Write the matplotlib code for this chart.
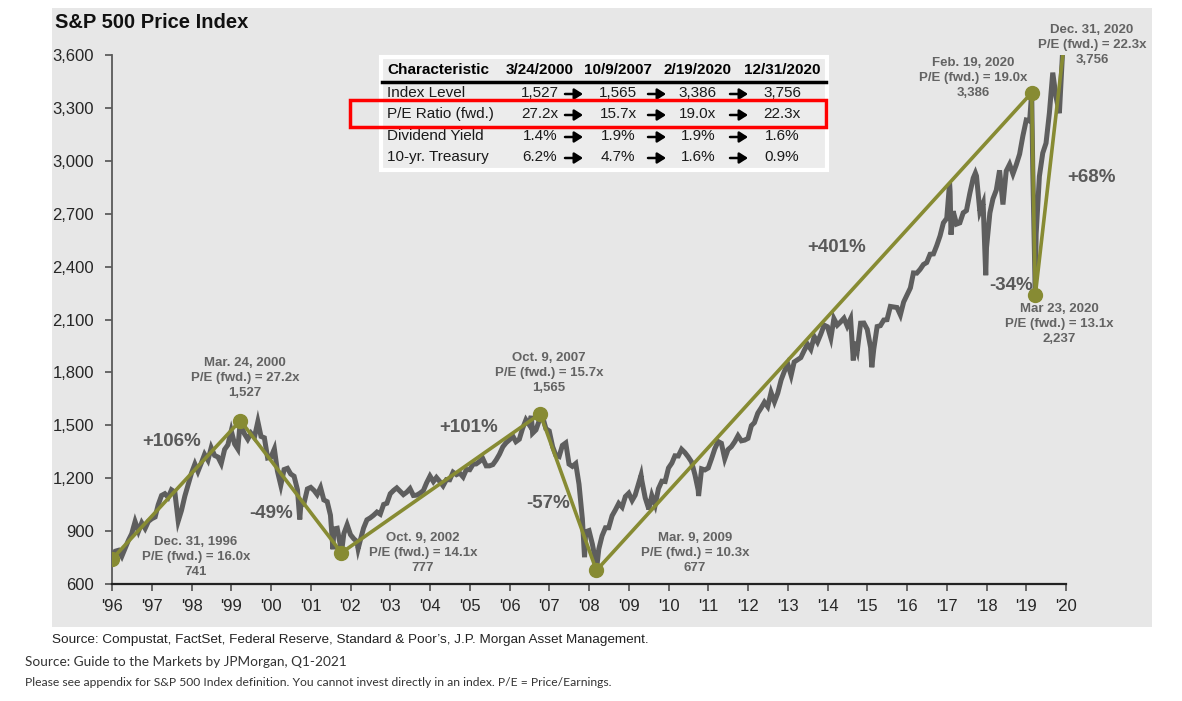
import numpy as np
import pandas as pd
import matplotlib
matplotlib.use("Agg")
import matplotlib.pyplot as plt
from matplotlib.patches import Rectangle, FancyArrowPatch

# S&P 500 month-end closes, Dec 1996 .. Dec 2020
sp500_close = [
    741,
    786, 791, 757, 801, 848, 885, 954, 899, 947, 915, 955, 970,          # 1997
    980, 1049, 1102, 1112, 1091, 1134, 1121, 957, 1017, 1099, 1164, 1229,  # 1998
    1280, 1238, 1286, 1335, 1302, 1373, 1329, 1320, 1283, 1363, 1389, 1469,  # 1999
    1394, 1366, 1499, 1452, 1421, 1455, 1431, 1518, 1437, 1429, 1315, 1320,  # 2000
    1366, 1240, 1160, 1249, 1256, 1224, 1211, 1134, 1041, 1060, 1139, 1148,  # 2001
    1130, 1107, 1147, 1077, 1067, 990, 912, 916, 815, 886, 936, 880,       # 2002
    856, 841, 848, 917, 964, 975, 990, 1008, 996, 1051, 1058, 1112,        # 2003
    1131, 1145, 1126, 1107, 1121, 1141, 1102, 1104, 1115, 1130, 1174, 1212,  # 2004
    1181, 1204, 1181, 1157, 1192, 1191, 1234, 1220, 1229, 1207, 1249, 1248,  # 2005
    1280, 1281, 1295, 1311, 1270, 1270, 1277, 1304, 1336, 1378, 1401, 1418,  # 2006
    1438, 1407, 1421, 1482, 1531, 1503, 1455, 1474, 1527, 1549, 1481, 1468,  # 2007
    1379, 1331, 1323, 1386, 1400, 1280, 1267, 1283, 1166, 969, 896, 903,   # 2008
    826, 735, 798, 873, 919, 919, 987, 1021, 1057, 1036, 1096, 1115,       # 2009
    1074, 1104, 1169, 1187, 1089, 1031, 1102, 1049, 1141, 1183, 1181, 1258,  # 2010
    1286, 1327, 1326, 1364, 1345, 1321, 1292, 1219, 1131, 1253, 1247, 1258,  # 2011
    1312, 1366, 1408, 1398, 1310, 1362, 1379, 1407, 1441, 1412, 1416, 1426,  # 2012
    1498, 1515, 1569, 1598, 1631, 1606, 1686, 1633, 1682, 1757, 1806, 1848,  # 2013
    1783, 1859, 1872, 1884, 1924, 1960, 1931, 2003, 1972, 2018, 2068, 2059,  # 2014
    1995, 2105, 2068, 2086, 2107, 2063, 2104, 1972, 1920, 2079, 2080, 2044,  # 2015
    1940, 1932, 2060, 2065, 2097, 2099, 2174, 2171, 2168, 2126, 2199, 2239,  # 2016
    2279, 2364, 2363, 2384, 2412, 2423, 2470, 2472, 2519, 2575, 2648, 2674,  # 2017
    2824, 2714, 2641, 2648, 2705, 2718, 2816, 2902, 2914, 2712, 2760, 2507,  # 2018
    2704, 2784, 2834, 2946, 2752, 2942, 2980, 2926, 2977, 3038, 3141, 3231,  # 2019
    3226, 2954, 2585, 2912, 3044, 3100, 3271, 3500, 3363, 3270, 3622, 3756,  # 2020
]

# intra-month highs / lows seen in the daily line
extra_dates = ['2000-03-24', '2000-09-01', '2001-09-21', '2002-07-23', '2002-10-09',
               '2003-03-11', '2007-07-19', '2007-10-09', '2008-11-20', '2009-03-09',
               '2010-04-23', '2010-07-02', '2011-10-03', '2015-08-25', '2016-02-11',
               '2018-01-26', '2018-02-08', '2018-09-20', '2018-12-24', '2020-02-19',
               '2020-03-23']
extra_values = [1527, 1521, 966, 797, 777,
                800, 1553, 1565, 752, 677,
                1217, 1022, 1099, 1868, 1829,
                2873, 2581, 2931, 2351, 3386,
                2237]

# peaks and troughs joined by the olive line
key_dates = ['1996-12-31', '2000-03-24', '2002-10-09', '2007-10-09',
             '2009-03-09', '2020-02-19', '2020-03-23', '2020-12-31']
key_values = [741, 1527, 777, 1565, 677, 3386, 2237, 3756]

key_labels = ['Dec. 31, 1996', 'Mar. 24, 2000', 'Oct. 9, 2002', 'Oct. 9, 2007',
              'Mar. 9, 2009', 'Feb. 19, 2020', 'Mar 23, 2020', 'Dec. 31, 2020']
key_pe = ['16.0x', '27.2x', '14.1x', '15.7x', '10.3x', '19.0x', '13.1x', '22.3x']
key_level = ['741', '1,527', '777', '1,565', '677', '3,386', '2,237', '3,756']

moves = ['+106%', '-49%', '+101%', '-57%', '+401%', '-34%', '+68%']

table_cols = ['3/24/2000', '10/9/2007', '2/19/2020', '12/31/2020']
table_rows = ['Index Level', 'P/E Ratio (fwd.)', 'Dividend Yield', '10-yr. Treasury']
index_level = ['1,527', '1,565', '3,386', '3,756']
pe_ratio = ['27.2x', '15.7x', '19.0x', '22.3x']
div_yield = ['1.4%', '1.9%', '1.9%', '1.6%']
treasury_10y = ['6.2%', '4.7%', '1.6%', '0.9%']

year_ticks = list(range(1997, 2022))
year_labels = ["'%02d" % ((y - 1) % 100) for y in year_ticks]


def dec_year(d):
    d = pd.Timestamp(d)
    n = 366 if d.is_leap_year else 365
    return d.year + d.dayofyear / n


W, H = 1182, 701
fig = plt.figure(figsize=(W / 100, H / 100), dpi=100)
plt.rcParams['font.family'] = ['Liberation Sans', 'DejaVu Sans']


def fx(px):
    return px / W


def fy(py):
    return 1 - py / H


def ftext(px, py, s, **kw):
    kw.setdefault('ha', 'center')
    kw.setdefault('va', 'center')
    fig.text(fx(px), fy(py), s, **kw)


# grey panel
fig.patches.append(Rectangle((fx(52), fy(627)), fx(1152 - 52), (627 - 8) / H,
                             transform=fig.transFigure, facecolor='#e7e7e7',
                             edgecolor='none', zorder=-5))

ax = fig.add_axes([fx(112), fy(584), fx(1066 - 112), (584 - 55) / H])
ax.patch.set_alpha(0)

# price line
month_dates = pd.date_range('1996-12-31', periods=len(sp500_close), freq='ME')
xs = [dec_year(d) for d in month_dates] + [dec_year(d) for d in extra_dates]
ys = list(sp500_close) + list(extra_values)
order = np.argsort(xs)
ax.plot(np.array(xs)[order], np.array(ys)[order], color='#5e5e5e', lw=3.6,
        solid_joinstyle='miter', zorder=2)

kx = [dec_year(d) for d in key_dates]
olive = '#878b33'
ax.plot(kx, key_values, color=olive, lw=2.6, zorder=3)
ax.plot(kx[:-1], key_values[:-1], 'o', color=olive, ms=10, zorder=4)

ax.set_xlim(1997, 2021)
ax.set_ylim(600, 3600)
ax.set_yticks(range(600, 3601, 300))
ax.set_yticklabels(['{:,}'.format(v) for v in range(600, 3601, 300)])
ax.set_xticks(year_ticks)
ax.set_xticklabels(year_labels)
for s in ['top', 'right']:
    ax.spines[s].set_visible(False)
ax.spines['left'].set_color('#5a5a5a')
ax.spines['left'].set_linewidth(1.3)
ax.spines['bottom'].set_color('#222222')
ax.spines['bottom'].set_linewidth(1.6)
ax.tick_params(axis='both', direction='out', length=5, width=1.1, color='#444444',
               labelsize=12, labelcolor='#262626')
ax.tick_params(axis='y', pad=8)
ax.tick_params(axis='x', pad=6)

# title
ftext(55, 23, 'S&P 500 Price Index', ha='left', fontsize=14.5, fontweight='bold',
      color='#111111')

# point annotations (pixel centres of the three-line labels)
ann_pos = [(196, 557), (245, 378), (423, 553), (549, 373),
           (695, 553), (973, 78), (1059, 324), (1092, 45)]
ann_col = '#636363'
for (px, py), lab, pe, lev in zip(ann_pos, key_labels, key_pe, key_level):
    ftext(px, py, lab + '\nP/E (fwd.) = ' + pe + '\n' + lev, fontsize=9.5,
          fontweight='bold', color=ann_col, linespacing=1.38)

move_pos = [(172, 442), (271, 514), (469, 427), (548, 503),
            (837, 247), (1011, 285), (1092, 178)]
for (px, py), m in zip(move_pos, moves):
    ftext(px, py, m, fontsize=13.5, fontweight='bold', color='#595959')

# characteristics table
fig.patches.append(Rectangle((fx(381), fy(170)), fx(827 - 381), (170 - 57) / H,
                             transform=fig.transFigure, facecolor='#ececec',
                             edgecolor='white', lw=3, zorder=1))
fig.add_artist(plt.Line2D([fx(382), fx(826)], [fy(82), fy(82)], color='black',
                          lw=2.5, transform=fig.transFigure, zorder=6))
col_x = [540, 618, 698, 782]
arrow_x = [574, 657, 739]
ftext(387, 70, 'Characteristic', ha='left', fontsize=11, fontweight='bold')
for cx, c in zip(col_x, table_cols):
    ftext(cx, 70, c, fontsize=11, fontweight='bold')
row_y = [93, 114, 136, 157]
for ry, name, vals in zip(row_y, table_rows,
                          [index_level, pe_ratio, div_yield, treasury_10y]):
    ftext(387, ry, name, ha='left', fontsize=11, color='#1a1a1a')
    for cx, v in zip(col_x, vals):
        ftext(cx, ry, v, fontsize=11, color='#1a1a1a')
    for axx in arrow_x:
        fig.add_artist(FancyArrowPatch((fx(axx - 9), fy(ry + 1)), (fx(axx + 9), fy(ry + 1)),
                                       transform=fig.transFigure,
                                       arrowstyle='-|>,head_length=0.5,head_width=0.32',
                                       mutation_scale=10, lw=1.8, color='black',
                                       shrinkA=0, shrinkB=0, zorder=6))

fig.patches.append(Rectangle((fx(350), fy(127)), fx(826 - 350), (127 - 100) / H,
                             transform=fig.transFigure, facecolor='none',
                             edgecolor='#ff0000', lw=2.5, zorder=7))

# footnotes
ftext(52, 640, 'Source: Compustat, FactSet, Federal Reserve, Standard & Poor\u2019s, '
      'J.P. Morgan Asset Management.', ha='left', fontsize=9.7, color='#222222')
ftext(25, 662, 'Source: Guide to the Markets by JPMorgan, Q1-2021', ha='left',
      fontsize=9.85, family=['Lato', 'DejaVu Sans'], color='#333333')
ftext(25, 683, 'Please see appendix for S&P 500 Index definition. You cannot invest '
      'directly in an index. P/E = Price/Earnings.', ha='left', fontsize=8.7,
      family=['Lato', 'DejaVu Sans'], color='#333333')

fig.savefig('out.png', dpi=100, facecolor='white')
